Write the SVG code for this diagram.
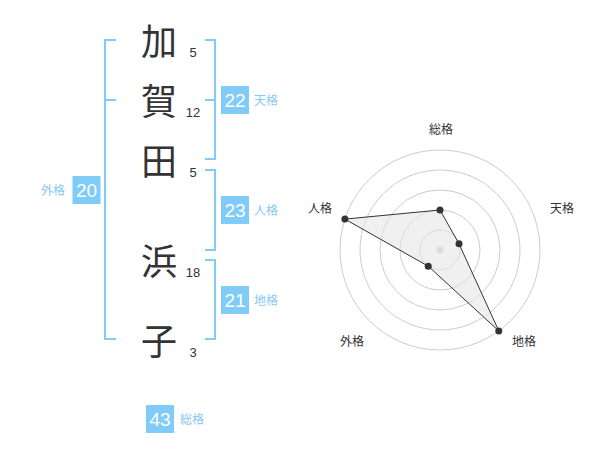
<svg xmlns="http://www.w3.org/2000/svg" width="600" height="470" viewBox="0 0 600 470">
<style>
.ch{font-family:"Noto Sans CJK JP","Liberation Sans",sans-serif;font-size:36px;fill:#333;text-anchor:middle}
.num{font-family:"Liberation Sans","Noto Sans CJK JP",sans-serif;font-size:13px;fill:#333;text-anchor:middle}
.br{fill:none;stroke:#80cbf7;stroke-width:2}
.box{fill:#80cbf7}
.bn{font-family:"Liberation Sans",sans-serif;font-size:19px;fill:#fff;text-anchor:middle}
.lb{font-family:"Noto Sans CJK JP","Liberation Sans",sans-serif;font-size:12px;fill:#86c9f2}
.ring{fill:none;stroke:#ccc;stroke-width:1}
.rl{font-family:"Noto Sans CJK JP","Liberation Sans",sans-serif;font-size:12px;fill:#333;text-anchor:middle}
.dot{fill:#333}
</style>
<rect width="600" height="470" fill="#fff"/>
<g id="chars">
<g id="c1"><text class="ch" x="159" y="55">加</text><text class="num" x="193" y="57">5</text></g>
<g id="c2"><text class="ch" x="159" y="115">賀</text><text class="num" x="193" y="117">12</text></g>
<g id="c3"><text class="ch" x="159" y="175">田</text><text class="num" x="193" y="177">5</text></g>
<g id="c4"><text class="ch" x="159" y="275">浜</text><text class="num" x="193" y="277">18</text></g>
<g id="c5"><text class="ch" x="159" y="355">子</text><text class="num" x="193" y="357">3</text></g>
</g>
<g id="connectors">
<path class="br" d="M116,40 H105 V339 H116 M105,100 H116"/>
<path class="br" d="M205,40 H215 V159 H205 M215,100 H205"/>
<path class="br" d="M205,170 H215 V250 H205"/>
<path class="br" d="M205,260 H215 V339 H205"/>
</g>
<g id="tenkaku"><rect class="box" x="221" y="86" width="28" height="28"/><text class="bn" x="235" y="107">22</text><text class="lb" x="254" y="105">天格</text></g>
<g id="jinkaku"><rect class="box" x="221" y="196" width="28" height="28"/><text class="bn" x="235" y="217">23</text><text class="lb" x="254" y="215">人格</text></g>
<g id="chikaku"><rect class="box" x="221" y="286" width="28" height="28"/><text class="bn" x="235" y="307">21</text><text class="lb" x="254" y="305">地格</text></g>
<g id="gaikaku"><rect class="box" x="72.5" y="176" width="28" height="28"/><text class="bn" x="86.5" y="197">20</text><text class="lb" x="41" y="195">外格</text></g>
<g id="soukaku"><rect class="box" x="146" y="405" width="28" height="28"/><text class="bn" x="160" y="426">43</text><text class="lb" x="180" y="424">総格</text></g>
<g id="radar">
<circle class="ring" cx="440" cy="250" r="100"/>
<circle class="ring" cx="440" cy="250" r="80"/>
<circle class="ring" cx="440" cy="250" r="60"/>
<circle class="ring" cx="440" cy="250" r="40"/>
<circle class="ring" cx="440" cy="250" r="20"/>
<circle cx="440" cy="250" r="3.5" fill="#ccc"/>
<polygon points="440,210 459.02,243.82 498.78,330.9 428.24,266.18 344.89,219.1" fill="#e6e6e6" fill-opacity="0.6" stroke="#333" stroke-width="1"/>
<circle class="dot" cx="440" cy="210" r="3.5"/>
<circle class="dot" cx="459.02" cy="243.82" r="3.5"/>
<circle class="dot" cx="498.78" cy="330.9" r="3.5"/>
<circle class="dot" cx="428.24" cy="266.18" r="3.5"/>
<circle class="dot" cx="344.89" cy="219.1" r="3.5"/>
<text class="rl" x="441" y="134">総格</text>
<text class="rl" x="562" y="213">天格</text>
<text class="rl" x="524" y="346">地格</text>
<text class="rl" x="352" y="346">外格</text>
<text class="rl" x="320" y="213">人格</text>
</g>
</svg>
